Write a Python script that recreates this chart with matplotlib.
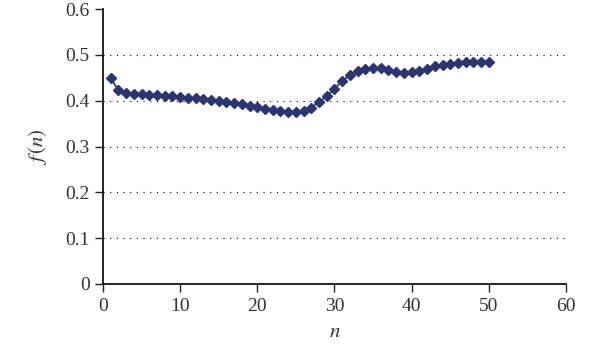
import numpy as np
import matplotlib
matplotlib.use('Agg')
import matplotlib.pyplot as plt

# Donnees
n = list(range(1, 51))
f_n = [0.449, 0.423, 0.416, 0.415, 0.414, 0.413, 0.412, 0.411, 0.410, 0.408,
       0.407, 0.405, 0.403, 0.401, 0.399, 0.397, 0.395, 0.392, 0.389, 0.386,
       0.382, 0.379, 0.377, 0.375, 0.375, 0.377, 0.385, 0.397, 0.410, 0.426,
       0.443, 0.456, 0.466, 0.470, 0.472, 0.471, 0.467, 0.462, 0.460, 0.462,
       0.465, 0.470, 0.475, 0.479, 0.481, 0.483, 0.484, 0.484, 0.484, 0.484]
x_ticks = [0, 10, 20, 30, 40, 50, 60]
y_ticks = [0, 0.1, 0.2, 0.3, 0.4, 0.5, 0.6]
y_labels = ['0', '0.1', '0.2', '0.3', '0.4', '0.5', '0.6']

plt.rcParams['font.family'] = ['Liberation Serif', 'DejaVu Serif']
plt.rcParams['mathtext.fontset'] = 'stix'

fig = plt.figure(figsize=(5.92, 3.51), dpi=100)
ax = fig.add_axes([0.174, 0.191, 0.782, 0.783])

ax.plot(n, f_n, color='#2b3574', marker='D', markersize=5.6, linewidth=1.2)

ax.set_xlim(0, 60)
ax.set_ylim(0, 0.6)
ax.set_xticks(x_ticks)
ax.set_yticks(y_ticks)
ax.set_yticklabels(y_labels)
ax.tick_params(labelsize=14, labelcolor='#333333', color='#222222',
               width=1, length=6, direction='out')
ax.tick_params(axis='x', pad=4)

for v in y_ticks[1:-1]:
    ax.axhline(v, color='black', linestyle=(0, (1, 5)), linewidth=0.8, zorder=0)

ax.spines['top'].set_visible(False)
ax.spines['right'].set_visible(False)
ax.spines['left'].set_linewidth(1.2)
ax.spines['bottom'].set_linewidth(1.2)

ax.set_xlabel('$n$', fontsize=15, color='#333333', labelpad=6)
ax.set_ylabel('$f\\,(n)$', fontsize=15, color='#333333', labelpad=12)

fig.savefig('out.png', dpi=100)
